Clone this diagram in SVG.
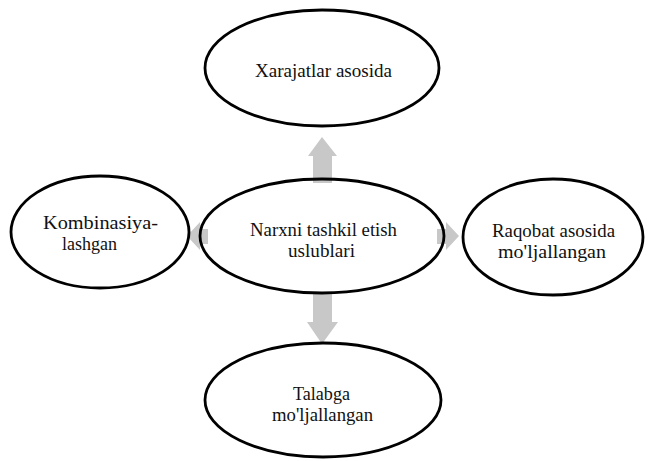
<svg xmlns="http://www.w3.org/2000/svg" width="649" height="461" viewBox="0 0 649 461">
<style>
.node ellipse{fill:none;stroke:#000;stroke-width:2.8}
.node text{font-family:"Liberation Serif","Times New Roman",serif;font-size:18px;fill:#111}
.arr{fill:#c8c8c8;stroke:none}
</style>
<rect width="649" height="461" fill="#fff"/>
<g id="connectors">
<polygon class="arr" points="322,137 337,156 332,156 332,183 313,183 313,156 308,156"/>
<polygon class="arr" points="322,344 338,322 332,322 332,293 313,293 313,322 307,322"/>
<polygon class="arr" points="187,236 200,222 200,229 208,229 208,244 200,244 200,250"/>
<polygon class="arr" points="459,236 446,222 446,229 437,229 437,244 446,244 446,250"/>
</g>
<g id="n-top" class="node">
<ellipse cx="322" cy="68" rx="117" ry="58"/>
<text x="255" y="77" textLength="137" lengthAdjust="spacingAndGlyphs">Xarajatlar asosida</text>
</g>
<g id="n-center" class="node">
<ellipse cx="322" cy="236" rx="122" ry="57"/>
<text x="250" y="236" textLength="147" lengthAdjust="spacingAndGlyphs">Narxni tashkil etish</text>
<text x="288" y="257" textLength="67" lengthAdjust="spacingAndGlyphs">uslublari</text>
</g>
<g id="n-left" class="node">
<ellipse cx="100" cy="232" rx="89" ry="56"/>
<text x="43" y="229" textLength="115" lengthAdjust="spacingAndGlyphs">Kombinasiya-</text>
<text x="62" y="250" textLength="55" lengthAdjust="spacingAndGlyphs">lashgan</text>
</g>
<g id="n-right" class="node">
<ellipse cx="553" cy="237" rx="90" ry="58"/>
<text x="492" y="237" textLength="123" lengthAdjust="spacingAndGlyphs">Raqobat asosida</text>
<text x="498" y="258" textLength="108" lengthAdjust="spacingAndGlyphs">mo'ljallangan</text>
</g>
<g id="n-bottom" class="node">
<ellipse cx="323" cy="400" rx="118" ry="57"/>
<text x="293" y="400" textLength="57" lengthAdjust="spacingAndGlyphs">Talabga</text>
<text x="272" y="421" textLength="101" lengthAdjust="spacingAndGlyphs">mo'ljallangan</text>
</g>
</svg>
